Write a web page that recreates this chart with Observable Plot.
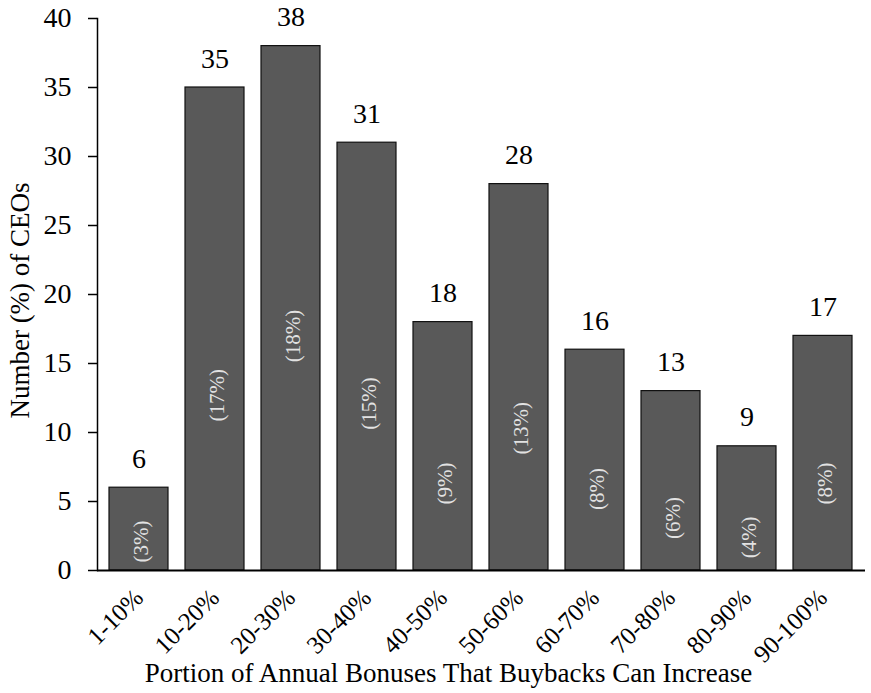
<!DOCTYPE html>
<html>
<head>
<meta charset="utf-8">
<script src="https://cdn.jsdelivr.net/npm/d3@7"></script>
<script src="https://cdn.jsdelivr.net/npm/@observablehq/plot@0.6"></script>
<style>
  html, body { margin: 0; padding: 0; background: #fff; }
  #chart svg { display: block; }
</style>
</head>
<body>
<div id="chart"></div>
<script>
const categories = ["1-10%", "10-20%", "20-30%", "30-40%", "40-50%", "50-60%", "60-70%", "70-80%", "80-90%", "90-100%"];
const counts = [6, 35, 38, 31, 18, 28, 16, 13, 9, 17];
const shares = [3, 17, 18, 15, 9, 13, 8, 6, 4, 8];
// where each "(x%)" label sits inside its bar, in data units
const shareLabelY = [2.1, 12.7, 17.0, 12.1, 6.3, 10.3, 5.9, 3.8, 2.4, 6.3];
const yTicks = [0, 5, 10, 15, 20, 25, 30, 35, 40];
const xTitle = "Portion of Annual Bonuses That Buybacks Can Increase";
const yTitle = "Number (%) of CEOs";

const data = categories.map((c, i) => ({
  cat: c, count: counts[i], share: shares[i], shareY: shareLabelY[i]
}));

const FONT = "Liberation Serif";

const chart = Plot.plot({
  width: 871,
  height: 693,
  marginTop: 18,
  marginLeft: 97,
  marginRight: 6,
  marginBottom: 123,
  style: { fontFamily: FONT, fontSize: "26px", color: "#000", background: "#fff" },
  x: { domain: categories, paddingInner: 0.22, paddingOuter: 0.11, label: null },
  y: { domain: [0, 40], label: null },
  marks: [
    Plot.barY(data, { x: "cat", y: "count", fill: "#595959", stroke: "#111", strokeWidth: 1.2 }),
    Plot.frame({ anchor: "left", stroke: "#000", strokeWidth: 1.5 }),
    Plot.ruleY([0], { stroke: "#000", strokeWidth: 2 }),
    Plot.axisY({ ticks: yTicks, tickSize: 9, tickPadding: 17, fontSize: 28, fontFamily: FONT, label: null, strokeWidth: 1.5 }),
    Plot.axisX({ tickRotate: -45, tickSize: 0, tickPadding: 23, fontSize: 25, fontFamily: FONT, label: null }),
    Plot.text(data, { x: "cat", y: "count", text: d => String(d.count), dy: -20, lineAnchor: "bottom", fontSize: 28, fontFamily: FONT, fill: "#000" }),
    Plot.text(data, { x: "cat", y: "shareY", text: d => `(${d.share}%)`, rotate: -90, fontSize: 21, fontFamily: FONT, fill: "#e2e2e2", dx: 2 }),
    Plot.text([xTitle], { frameAnchor: "bottom", text: d => d, dx: -33, dy: 111, lineAnchor: "bottom", fontSize: 27, fontFamily: FONT, fill: "#000" }),
    Plot.text([yTitle], { frameAnchor: "left", textAnchor: "middle", text: d => d, rotate: -90, dx: -77, dy: 6, fontSize: 27, fontFamily: FONT, fill: "#000" })
  ]
});

document.getElementById("chart").appendChild(chart);
</script>
</body>
</html>
